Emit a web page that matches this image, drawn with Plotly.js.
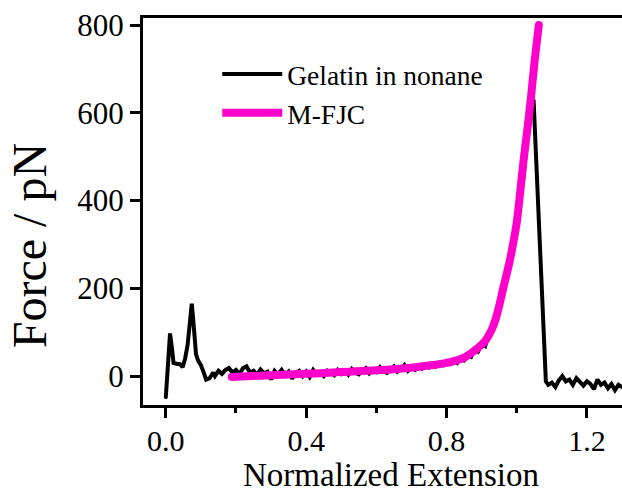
<!DOCTYPE html>
<html>
<head>
<meta charset="utf-8">
<script src="https://cdn.plot.ly/plotly-3.0.1.min.js"></script>
<style>html,body{margin:0;padding:0;background:#fff;}#chart{width:622px;height:501px;}
#chart .scatterlayer path.js-line{stroke-linecap:round;}</style>
</head>
<body>
<div id="chart"></div>
<script>
// Gelatin in nonane (measured force-extension trace)
const gelatinX = [0.000,0.012,0.018,0.022,0.030,0.040,0.048,0.055,0.062,0.068,0.074,0.080,0.086,0.092,0.100,0.107,0.115,0.125,0.135,0.140,0.150,0.160,0.170,0.180,
  0.19,0.20,0.21,0.22,0.23,0.24,0.25,0.26,0.27,0.28,0.29,0.30,0.31,0.32,0.33,0.34,0.35,0.36,0.37,0.38,0.39,0.40,
  0.41,0.42,0.43,0.44,0.45,0.46,0.47,0.48,0.49,0.50,0.51,0.52,0.53,0.54,0.55,0.56,0.57,0.58,0.59,0.60,
  0.61,0.62,0.63,0.64,0.65,0.66,0.67,0.68,0.69,0.70,0.71,0.72,0.73,0.74,0.75,0.76,0.77,0.78,0.79,0.80,
  0.81,0.82,0.83,0.84,0.85,0.86,0.87,0.88,0.89,0.90,0.91,0.92,0.93,0.94,0.95,0.96,0.97,0.98,0.99,1.00,
  1.01,1.02,1.03,1.04,1.048,1.083,1.09,1.10,1.11,1.12,1.13,1.14,1.15,1.16,1.17,1.18,1.19,1.20,1.21,1.22,
  1.23,1.24,1.25,1.26,1.27,1.28,1.29,1.30];
const gelatinF = [-48,97,60,30,28,27,20,40,70,110,165,110,50,35,25,10,-8,-5,8,0,12,5,14,18,
  8,14,5,18,22,8,12,3,15,6,10,-8,12,4,14,2,10,-6,8,12,0,10,
  -2,14,4,8,0,12,6,2,14,5,12,3,16,8,4,10,18,6,14,9,
  20,10,7,16,22,10,16,25,12,20,14,22,17,26,20,28,22,30,25,34,
  28,36,30,42,36,48,44,62,56,72,68,95,110,125,155,180,220,250,285,330,
  390,460,540,600,630,-12,-20,-15,-25,-10,0,-12,-8,-20,-5,-14,-22,-12,-18,-30,
  -8,-20,-15,-28,-18,-32,-20,-25];

// M-FJC fit
const fitX = [0.188,0.30,0.40,0.50,0.60,0.70,0.75,0.80,0.85,0.88,0.91,0.93,0.94,0.95,0.96,0.97,0.98,0.99,1.00,1.01,1.02,1.03,1.04,1.05,1.063];
const fitF = [-2,2,5,9,13,19,24,30,42,58,80,108,130,160,195,228,262,303,350,420,495,560,630,710,800];

const xTickVals = [0.0,0.4,0.8,1.2];
const xTickText = ['0.0','0.4','0.8','1.2'];
const yTickVals = [0,200,400,600,800];

const serif = '"Liberation Serif", "Times New Roman", serif';

const traces = [
  {x: gelatinX, y: gelatinF, type: 'scatter', mode: 'lines', name: 'Gelatin in nonane',
   line: {color: '#000000', width: 4}},
  {x: fitX, y: fitF, type: 'scatter', mode: 'lines', name: 'M-FJC',
   line: {color: '#ff00cc', width: 8, shape: 'spline', smoothing: 1}}
];

const layout = {
  width: 622, height: 501,
  margin: {l: 143, r: 0, t: 18, b: 96},
  paper_bgcolor: '#fff', plot_bgcolor: '#fff',
  font: {family: serif, color: '#000'},
  showlegend: true,
  legend: {x: 0.155, y: 0.918, xanchor: 'left', yanchor: 'top', bgcolor: 'rgba(0,0,0,0)',
           font: {family: serif, size: 27.5, color: '#000'}, tracegroupgap: 0, itemwidth: 60},
  xaxis: {range: [-0.065, 1.3], showgrid: false, zeroline: false,
          showline: true, linecolor: '#000', linewidth: 3, mirror: true,
          ticks: 'outside', ticklen: 10, tickwidth: 3, tickcolor: '#000',
          tickvals: xTickVals, ticktext: xTickText, ticklabelstandoff: -3,
          minor: {tickvals: [0.2, 0.6, 1.0], ticks: 'outside', ticklen: 5, tickwidth: 3, tickcolor: '#000'},
          tickfont: {family: serif, size: 30, color: '#000'}},
  yaxis: {range: [-66, 816], showgrid: false, zeroline: false,
          showline: true, linecolor: '#000', linewidth: 3, mirror: false,
          ticks: 'outside', ticklen: 10, tickwidth: 3, tickcolor: '#000',
          tickvals: yTickVals,
          tickfont: {family: serif, size: 31, color: '#000'}},
  annotations: [
    {text: 'Normalized Extension', xref: 'paper', yref: 'paper', x: 0.518, y: -0.18,
     xanchor: 'center', yanchor: 'middle', showarrow: false,
     font: {family: serif, size: 33, color: '#000'}},
    {text: 'Force / pN', xref: 'paper', yref: 'paper', x: -0.238, y: 0.413,
     xanchor: 'center', yanchor: 'middle', showarrow: false, textangle: -90,
     font: {family: serif, size: 48, color: '#000'}}
  ]
};

Plotly.newPlot('chart', traces, layout, {displayModeBar: false, staticPlot: true});
</script>
</body>
</html>
